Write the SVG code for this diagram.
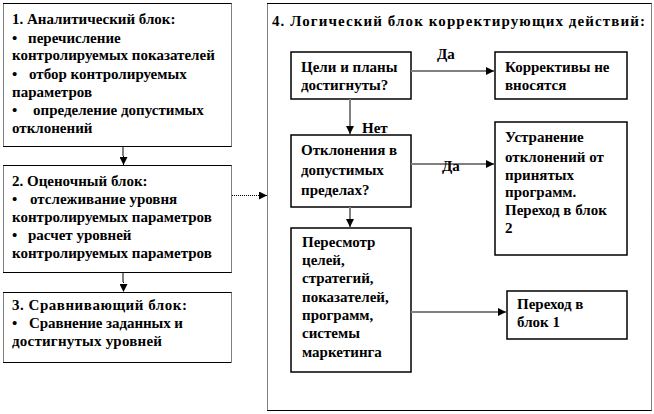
<svg xmlns="http://www.w3.org/2000/svg" width="654" height="414" viewBox="0 0 654 414">
<style>
text{font-family:"Liberation Serif","Times New Roman","DejaVu Serif",serif;font-weight:700;font-size:15px;fill:#000}
.h{stroke:#000;stroke-width:1;fill:none}
.v{stroke:#000;stroke-width:1;stroke-dasharray:1 1;fill:none}
.ib{fill:#fff;stroke:#000;stroke-width:1.5}
.ln{stroke:#808080;stroke-width:2;fill:none}
.dl{stroke:#000;stroke-width:1;stroke-dasharray:1 1;fill:none}
</style>
<defs>
<marker id="ar" markerUnits="userSpaceOnUse" markerWidth="9" markerHeight="8" refX="8" refY="4" orient="auto">
<path d="M0,0 L8,4 L0,8 Z" fill="#000"/>
</marker>
</defs>
<rect width="654" height="414" fill="#fff"/>

<g id="block1">
<rect x="3.5" y="3.5" width="228" height="143" fill="#fff"/>
<path class="h" d="M3,3.5H231.5M3,146.5H231.5"/>
<path class="v" d="M3.5,3.5V146.5M231.5,3.5V146.5"/>
<text x="12" y="24">1. Аналитический блок:</text>
<text x="12" y="43">•</text><text x="28" y="43">перечисление</text>
<text x="12" y="60">контролируемых показателей</text>
<text x="12" y="79">•</text><text x="29" y="79">отбор контролируемых</text>
<text x="12" y="97">параметров</text>
<text x="12" y="115">•</text><text x="33" y="115">определение допустимых</text>
<text x="12" y="133">отклонений</text>
</g>

<g id="block2">
<rect x="3.5" y="165.5" width="228" height="107" fill="#fff"/>
<path class="h" d="M3,165.5H231.5M3,272.5H231.5"/>
<path class="v" d="M3.5,165.5V272.5M231.5,165.5V272.5"/>
<text x="12" y="186">2. Оценочный блок:</text>
<text x="12" y="204">•</text><text x="30" y="204">отслеживание уровня</text>
<text x="12" y="222">контролируемых параметров</text>
<text x="12" y="240">•</text><text x="28" y="240">расчет уровней</text>
<text x="12" y="258">контролируемых параметров</text>
</g>

<g id="block3">
<rect x="3.5" y="292.5" width="228" height="70" fill="#fff"/>
<path class="h" d="M3,292.5H231.5M3,362.5H231.5"/>
<path class="v" d="M3.5,292.5V362.5M231.5,292.5V362.5"/>
<text x="12" y="310" textLength="175">3. Сравнивающий блок:</text>
<text x="12" y="328">•</text><text x="29" y="328" textLength="154">Сравнение заданных и</text>
<text x="12" y="346" textLength="150">достигнутых уровней</text>
</g>

<g id="block4">
<path class="h" d="M267,3.5H651.5M267,410.5H651.5"/>
<path class="v" d="M267.5,3.5V410.5M651.5,3.5V410.5"/>
<text x="272" y="26" textLength="373">4. Логический блок корректирующих действий:</text>
</g>

<g id="q1">
<rect class="ib" x="291" y="52" width="120" height="47"/>
<text x="301" y="72">Цели и планы</text>
<text x="301" y="90">достигнуты?</text>
</g>
<g id="r1">
<rect class="ib" x="495" y="52" width="132" height="47"/>
<text x="505" y="72">Коррективы не</text>
<text x="505" y="90">вносятся</text>
</g>
<g id="q2">
<rect class="ib" x="291" y="135" width="120" height="72"/>
<text x="301" y="155">Отклонения в</text>
<text x="301" y="175">допустимых</text>
<text x="301" y="195">пределах?</text>
</g>
<g id="r2">
<rect class="ib" x="495" y="122" width="132" height="133"/>
<text x="505" y="142">Устранение</text>
<text x="505" y="162">отклонений от</text>
<text x="505" y="180">принятых</text>
<text x="505" y="197">программ.</text>
<text x="505" y="215">Переход в блок</text>
<text x="505" y="233">2</text>
</g>
<g id="act">
<rect class="ib" x="291" y="228" width="120" height="144"/>
<text x="302" y="247">Пересмотр</text>
<text x="302" y="265">целей,</text>
<text x="302" y="283">стратегий,</text>
<text x="302" y="302">показателей,</text>
<text x="302" y="320">программ,</text>
<text x="302" y="338">системы</text>
<text x="302" y="357">маркетинга</text>
</g>
<g id="r3">
<rect class="ib" x="507" y="291" width="120" height="48"/>
<text x="517" y="309">Переход в</text>
<text x="517" y="327">блок 1</text>
</g>

<g id="connectors">
<path class="ln" d="M123,147V156"/>
<path class="dl" d="M123.5,156V165" marker-end="url(#ar)"/>
<path class="ln" d="M123,273V282"/>
<path class="dl" d="M123.5,282V292" marker-end="url(#ar)"/>
<path class="dl" d="M232,195.5H267" marker-end="url(#ar)"/>
<path class="ln" d="M411,71H494" marker-end="url(#ar)"/>
<path class="ln" d="M350,99V134" marker-end="url(#ar)"/>
<path class="ln" d="M411,164H494" marker-end="url(#ar)"/>
<path class="ln" d="M350,207V227" marker-end="url(#ar)"/>
<path class="ln" d="M411,312H506" marker-end="url(#ar)"/>
<text x="437" y="59">Да</text>
<text x="362" y="133">Нет</text>
<text x="442" y="171">Да</text>
</g>
</svg>
